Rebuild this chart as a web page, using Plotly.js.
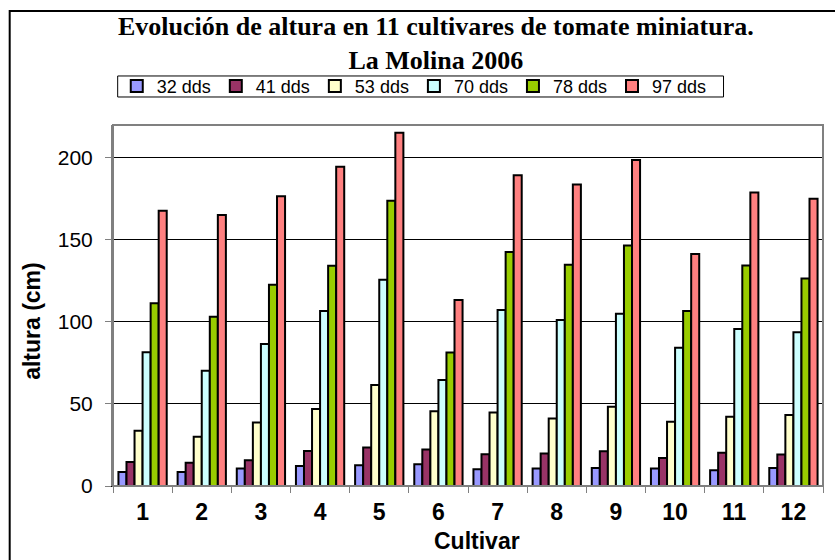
<!DOCTYPE html>
<html>
<head>
<meta charset="utf-8">
<script src="https://cdn.plot.ly/plotly-3.0.1.min.js"></script>
<style>html,body{margin:0;padding:0;background:#fff;}#chart{width:835px;height:560px;}</style>
</head>
<body>
<div id="chart"></div>
<script>
const cultivars = ['1','2','3','4','5','6','7','8','9','10','11','12'];
const seriesNames = ['32 dds','41 dds','53 dds','70 dds','78 dds','97 dds'];
const d32 = [8.6, 8.6, 10.6, 12.2, 12.6, 13.3, 10.2, 10.6, 11.0, 10.6, 9.6, 11.0];
const d41 = [14.7, 14.1, 15.7, 21.4, 23.4, 22.2, 19.4, 19.8, 21.2, 17.1, 20.2, 19.2];
const d53 = [33.6, 30.0, 38.7, 46.9, 61.5, 45.6, 44.8, 41.2, 48.3, 39.1, 42.2, 43.2];
const d70 = [81.5, 70.3, 86.5, 106.7, 125.7, 64.6, 107.3, 101.2, 104.9, 84.3, 95.7, 93.7];
const d78 = [111.4, 103.2, 122.6, 134.2, 173.9, 81.3, 142.6, 134.8, 146.6, 106.7, 134.4, 126.5];
const d97 = [167.8, 165.2, 176.6, 194.5, 215.3, 113.4, 189.4, 183.7, 198.6, 141.4, 178.8, 175.0];
const colors = ['#9999FF','#993366','#FFFFCC','#CCFFFF','#99CC00','#FF8080'];
const titleText = 'Evolución de altura en 11 cultivares de tomate miniatura.<br>La Molina 2006';
const xTitle = 'Cultivar';
const yTitle = 'altura (cm)';

const allData = [d32, d41, d53, d70, d78, d97];
const traces = allData.map((vals, i) => ({
  type: 'bar',
  name: seriesNames[i],
  x: cultivars,
  y: vals,
  marker: {color: colors[i], line: {color: '#000', width: 2}},
  hoverinfo: 'x+y+name'
}));

const serif = 'Liberation Serif, Times New Roman, serif';
const sans = 'Liberation Sans, Arial, sans-serif';

const layout = {
  width: 835, height: 560,
  margin: {l: 113, r: 11.5, t: 125, b: 74.3, pad: 0},
  paper_bgcolor: '#fff', plot_bgcolor: '#fff',
  barmode: 'group', bargap: 0.184, bargroupgap: 0,
  font: {family: sans, color: '#000', size: 16},
  showlegend: true,
  legend: {
    orientation: 'h', x: 0.0053, xanchor: 'left', y: 1.107, yanchor: 'middle',
    borderwidth: 0, bgcolor: 'rgba(0,0,0,0)',
    font: {family: sans, size: 18, color: '#000'},
    traceorder: 'normal', itemclick: false, itemwidth: 30
  },
  annotations: [
    {text: titleText, xref: 'paper', yref: 'paper', x: 0.4544, y: 1.2246, xanchor: 'center', yanchor: 'middle',
     showarrow: false, font: {family: serif, size: 26, weight: 'bold', color: '#000'}},
    {text: yTitle, xref: 'paper', yref: 'paper', x: -0.1145, y: 0.4566, xanchor: 'center', yanchor: 'middle',
     textangle: -90, showarrow: false, font: {family: sans, size: 23, weight: 'bold', color: '#000'}},
    {text: xTitle, xref: 'paper', yref: 'paper', x: 0.512, y: -0.1533, xanchor: 'center', yanchor: 'middle',
     showarrow: false, font: {family: sans, size: 23, weight: 'bold', color: '#000'}}
  ],
  xaxis: {
    type: 'category',
    tickfont: {size: 23, weight: 'bold'},
    ticks: 'outside', tickson: 'boundaries', ticklen: 6, tickcolor: '#808080', tickwidth: 1,
    ticklabelstandoff: 5,
    showline: true, linecolor: '#000', linewidth: 1,
    showgrid: false, zeroline: false
  },
  yaxis: {
    range: [0, 220],
    tickvals: [0, 50, 100, 150, 200],
    tickfont: {size: 21},
    ticks: 'outside', ticklen: 6, tickcolor: '#808080', tickwidth: 1,
    ticklabelstandoff: 8,
    showline: true, linecolor: '#808080', linewidth: 2,
    showgrid: true, gridcolor: '#000', gridwidth: 1,
    zeroline: false
  },
  shapes: [
    {type: 'rect', xref: 'paper', yref: 'paper', x0: 0, x1: 1, y0: 0, y1: 1,
     line: {color: '#808080', width: 2}, fillcolor: 'rgba(0,0,0,0)', layer: 'above'},
    {type: 'rect', xref: 'paper', yref: 'paper', x0: 0.0066, x1: 0.8599, y0: 1.0776, y1: 1.1358,
     line: {color: '#000', width: 1}, fillcolor: 'rgba(0,0,0,0)', layer: 'below'},
    {type: 'rect', xref: 'paper', yref: 'paper', x0: -0.1455, x1: 1.05, y0: -0.3, y1: 1.316,
     line: {color: '#000', width: 2}, fillcolor: 'rgba(0,0,0,0)', layer: 'above'}
  ]
};

Plotly.newPlot('chart', traces, layout, {displayModeBar: false, responsive: false});
</script>
</body>
</html>
